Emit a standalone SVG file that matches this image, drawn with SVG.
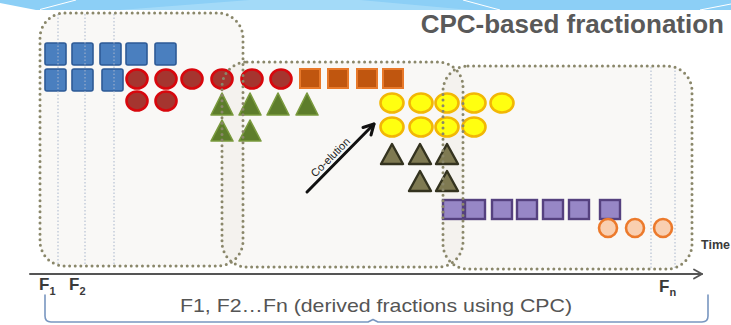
<svg xmlns="http://www.w3.org/2000/svg" width="731" height="325" viewBox="0 0 731 325">
  <style>
    .zone { fill: rgba(226,222,208,0.2); }
    .zone-edge { fill: none; stroke: #8a876a; stroke-width: 3; stroke-dasharray: 0 5.6; stroke-linecap: round; }
    .cut { stroke: #a9b6cc; stroke-width: 1; stroke-dasharray: 1.5 2; }
    .sq-blue { fill: #4a7fbf; stroke: #2d5a96; stroke-width: 1.6; }
    .c-red { fill: #a5352f; stroke: #d8070d; stroke-width: 2.6; }
    .sq-orange { fill: #c0560f; stroke: #e8792a; stroke-width: 2; }
    .tri-green { fill: #5d7d2b; stroke: #7a9a3e; stroke-width: 1.6; stroke-linejoin: round; }
    .c-yellow { fill: #ffff10; stroke: #f2b705; stroke-width: 2.6; }
    .tri-khaki { fill: #7f7a52; stroke: #34331f; stroke-width: 2.4; stroke-linejoin: round; }
    .sq-purple { fill: #9787c6; stroke: #55417f; stroke-width: 2.4; }
    .c-peach { fill: #f9cfb0; stroke: #ec7a2c; stroke-width: 2.6; }
    .lbl { font-family: "Liberation Sans", Arial, sans-serif; fill: #3a3a3a; font-weight: bold; }
  </style>

  <!-- header band -->
  <g id="header">
    <path d="M0,3 L36,10 H731 V0 H0 Z" fill="#8ccff6"/>
    <path d="M120,10 L250,0 H360 L470,10 Z" fill="#a3daf8"/>
    <path d="M40,9.5 L76,0" stroke="#ffffff" stroke-width="1" fill="none"/>
    <path d="M463,0 L500,10" stroke="#ffffff" stroke-width="1" fill="none"/>
    <path d="M700,10 L731,4" stroke="#ffffff" stroke-width="1" fill="none"/>
  </g>

  <!-- title -->
  <text id="title" x="724" y="33" text-anchor="end" font-family="Liberation Sans, Arial, sans-serif" font-size="26" font-weight="bold" fill="#595959">CPC-based fractionation</text>

  <!-- zone fills -->
  <g id="zone-fills">
    <rect class="zone" x="40" y="13" width="203" height="253" rx="25"/>
    <rect class="zone" x="222" y="62" width="241" height="205" rx="25"/>
    <rect class="zone" x="443" y="66" width="249" height="203" rx="25"/>
  </g>

  <!-- compounds -->
  <g id="blue-squares">
    <rect class="sq-blue" x="45" y="43" width="21" height="22" rx="2"/>
    <rect class="sq-blue" x="72" y="43" width="21" height="22" rx="2"/>
    <rect class="sq-blue" x="100" y="43" width="21" height="22" rx="2"/>
    <rect class="sq-blue" x="126" y="43" width="21" height="22" rx="2"/>
    <rect class="sq-blue" x="155" y="43" width="21" height="22" rx="2"/>
    <rect class="sq-blue" x="45" y="69" width="21" height="22" rx="2"/>
    <rect class="sq-blue" x="72" y="69" width="21" height="22" rx="2"/>
    <rect class="sq-blue" x="102" y="69" width="21" height="22" rx="2"/>
  </g>
  <g id="red-circles">
    <ellipse class="c-red" cx="137" cy="79" rx="10.5" ry="9.5"/>
    <ellipse class="c-red" cx="166" cy="79" rx="10.5" ry="9.5"/>
    <ellipse class="c-red" cx="192" cy="79" rx="10.5" ry="9.5"/>
    <ellipse class="c-red" cx="222" cy="79" rx="10.5" ry="9.5"/>
    <ellipse class="c-red" cx="252" cy="79" rx="10.5" ry="9.5"/>
    <ellipse class="c-red" cx="281" cy="79" rx="10.5" ry="9.5"/>
    <ellipse class="c-red" cx="137" cy="101" rx="10.5" ry="9.5"/>
    <ellipse class="c-red" cx="166" cy="101" rx="10.5" ry="9.5"/>
  </g>
  <g id="orange-squares">
    <rect class="sq-orange" x="300" y="69" width="20" height="19"/>
    <rect class="sq-orange" x="328" y="69" width="20" height="19"/>
    <rect class="sq-orange" x="357" y="69" width="20" height="19"/>
    <rect class="sq-orange" x="383" y="69" width="20" height="19"/>
  </g>
  <g id="green-triangles">
    <polygon class="tri-green" points="222,93 233,115 211,115"/>
    <polygon class="tri-green" points="250,93 261,115 239,115"/>
    <polygon class="tri-green" points="278,93 289,115 267,115"/>
    <polygon class="tri-green" points="307,93 318,115 296,115"/>
    <polygon class="tri-green" points="222,120 233,141 211,141"/>
    <polygon class="tri-green" points="250,120 261,141 239,141"/>
  </g>
  <g id="yellow-circles">
    <ellipse class="c-yellow" cx="392" cy="103" rx="11.5" ry="9.5"/>
    <ellipse class="c-yellow" cx="421" cy="103" rx="11.5" ry="9.5"/>
    <ellipse class="c-yellow" cx="447" cy="103" rx="11.5" ry="9.5"/>
    <ellipse class="c-yellow" cx="474" cy="103" rx="11.5" ry="9.5"/>
    <ellipse class="c-yellow" cx="502" cy="103" rx="11.5" ry="9.5"/>
    <ellipse class="c-yellow" cx="392" cy="127" rx="11.5" ry="9.5"/>
    <ellipse class="c-yellow" cx="421" cy="127" rx="11.5" ry="9.5"/>
    <ellipse class="c-yellow" cx="447" cy="127" rx="11.5" ry="9.5"/>
    <ellipse class="c-yellow" cx="474" cy="127" rx="11.5" ry="9.5"/>
  </g>
  <g id="khaki-triangles">
    <polygon class="tri-khaki" points="392,144 403,164 381,164"/>
    <polygon class="tri-khaki" points="420,144 431,164 409,164"/>
    <polygon class="tri-khaki" points="447,144 458,164 436,164"/>
    <polygon class="tri-khaki" points="420,171 431,191 409,191"/>
    <polygon class="tri-khaki" points="447,171 458,191 436,191"/>
  </g>
  <g id="purple-squares">
    <rect class="sq-purple" x="443" y="200" width="20" height="19"/>
    <rect class="sq-purple" x="465" y="200" width="20" height="19"/>
    <rect class="sq-purple" x="492" y="200" width="20" height="19"/>
    <rect class="sq-purple" x="517" y="200" width="20" height="19"/>
    <rect class="sq-purple" x="543" y="200" width="20" height="19"/>
    <rect class="sq-purple" x="569" y="200" width="20" height="19"/>
    <rect class="sq-purple" x="600" y="200" width="20" height="19"/>
  </g>
  <g id="peach-circles">
    <circle class="c-peach" cx="608" cy="228" r="9"/>
    <circle class="c-peach" cx="635" cy="228" r="9"/>
    <circle class="c-peach" cx="663" cy="228" r="9"/>
  </g>

  <!-- fraction cut lines -->
  <g id="fraction-cuts">
    <line class="cut" x1="58" y1="14" x2="58" y2="266"/>
    <line class="cut" x1="85" y1="14" x2="85" y2="266"/>
    <line class="cut" x1="114" y1="14" x2="114" y2="266"/>
    <line class="cut" x1="651" y1="67" x2="651" y2="268"/>
    <line class="cut" x1="675" y1="67" x2="675" y2="268"/>
  </g>

  <!-- zone outlines -->
  <g id="zone-1"><rect class="zone-edge" x="40" y="13" width="203" height="253" rx="25"/></g>
  <g id="zone-2"><rect class="zone-edge" x="222" y="62" width="241" height="205" rx="25"/></g>
  <g id="zone-3"><rect class="zone-edge" x="443" y="66" width="249" height="203" rx="25"/></g>

  <!-- connectors -->
  <g id="connectors" fill="none" stroke-linecap="round" stroke-linejoin="round">
    <g id="co-elution-arrow">
      <line x1="307" y1="192" x2="374" y2="124" stroke="#111" stroke-width="3"/>
      <polyline points="371,135 374,124 363,127.5" stroke="#111" stroke-width="3"/>
    </g>
    <g id="time-axis">
      <line x1="30" y1="274" x2="702" y2="274" stroke="#555" stroke-width="2"/>
      <polyline points="694,269.5 702,274 694,278.5" stroke="#555" stroke-width="1.8"/>
    </g>
    <path id="brace" d="M45,295 V316 Q45,322 51,322 H368 L373,319.5 L378,322 H702 Q708,322 708,316 V295" stroke="#7896c0" stroke-width="1.6"/>
  </g>

  <!-- labels -->
  <text x="333" y="160" transform="rotate(-45 333 160)" text-anchor="middle" font-family="Liberation Sans, Arial, sans-serif" font-size="11" fill="#222">Co-elution</text>
  <text class="lbl" x="730" y="249" text-anchor="end" font-size="12.5" fill="#444">Time</text>
  <text class="lbl" x="39" y="290" font-size="17">F<tspan font-size="11" dy="5">1</tspan></text>
  <text class="lbl" x="69" y="290" font-size="17">F<tspan font-size="11" dy="5">2</tspan></text>
  <text class="lbl" x="659" y="292" font-size="17">F<tspan font-size="11" dy="4">n</tspan></text>
  <text x="376" y="312" text-anchor="middle" font-family="Liberation Sans, Arial, sans-serif" font-size="19" fill="#555" textLength="392" lengthAdjust="spacingAndGlyphs">F1, F2…Fn (derived fractions using CPC)</text>
</svg>
